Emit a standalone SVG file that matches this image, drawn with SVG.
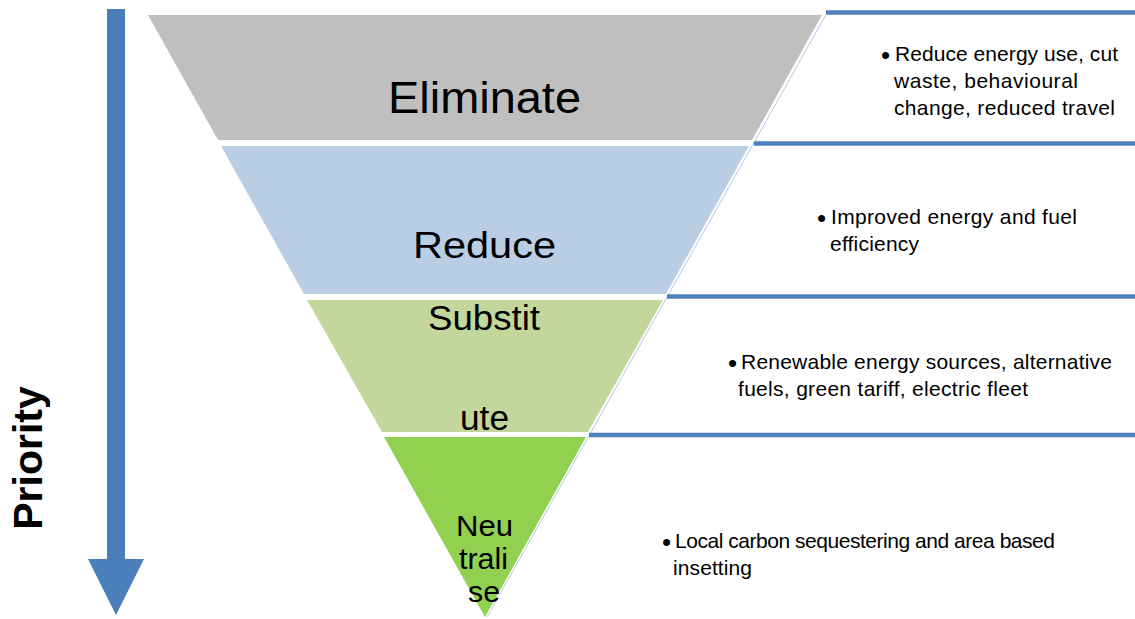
<svg xmlns="http://www.w3.org/2000/svg" width="1135" height="619" viewBox="0 0 1135 619">
<style>
.lvl{stroke:none}
.big{font-family:"Liberation Sans",Arial,sans-serif;fill:#000;text-anchor:start}
.desc{font-family:"Liberation Sans",Arial,sans-serif;font-size:21px;fill:#000}
.bul{font-family:"Liberation Sans",Arial,sans-serif;font-size:26px;fill:#000}
.rule{stroke:#4f81bd;stroke-width:4.5;fill:none}
.faint{stroke:#b4c7e7;stroke-width:1;fill:none}
</style>
<rect width="1135" height="619" fill="#fff"/>
<g id="priority-arrow">
<rect x="107" y="9" width="18" height="551" fill="#4a7ebb"/>
<polygon points="88,559 144,559 116,615" fill="#4a7ebb"/>
<text class="big" font-weight="bold" font-size="41" transform="translate(42,458) rotate(-90)" text-anchor="middle" style="text-anchor:middle">Priority</text>
</g>
<g id="connectors">
<line class="faint" x1="828" y1="11" x2="487" y2="617"/>
<line class="rule" x1="826" y1="12.5" x2="1135" y2="12.5"/>
<line class="rule" x1="754" y1="143.5" x2="1135" y2="143.5"/>
<line class="rule" x1="667" y1="296.5" x2="1135" y2="296.5"/>
<line class="rule" x1="589" y1="435" x2="1135" y2="435"/>
</g>
<g id="eliminate">
<polygon class="lvl" points="148,15 822,15 752,140 218,140" fill="#bfbfbf"/>
<text class="big" x="388" y="113" font-size="45" textLength="193" lengthAdjust="spacingAndGlyphs">Eliminate</text>
</g>
<g id="reduce">
<polygon class="lvl" points="221,146 749,146 666,294 304,294" fill="#b9cde5"/>
<text class="big" x="413" y="258" font-size="36" textLength="143" lengthAdjust="spacingAndGlyphs">Reduce</text>
</g>
<g id="substitute">
<polygon class="lvl" points="307,300 663,300 588,432 382,432" fill="#c3d69b"/>
<text class="big" x="428" y="330" font-size="35" textLength="112" lengthAdjust="spacingAndGlyphs">Substit</text>
<text class="big" x="460" y="430" font-size="35" textLength="49" lengthAdjust="spacingAndGlyphs">ute</text>
</g>
<g id="neutralise">
<polygon class="lvl" points="384,437 586,437 485,617" fill="#92d050"/>
<text class="big" x="456" y="536" font-size="30" textLength="57" lengthAdjust="spacingAndGlyphs">Neu</text>
<text class="big" x="459" y="569" font-size="30" textLength="49" lengthAdjust="spacingAndGlyphs">trali</text>
<text class="big" x="468" y="602" font-size="30" textLength="32" lengthAdjust="spacingAndGlyphs">se</text>
</g>
<g id="desc-eliminate">
<text class="bul" x="881" y="64">•</text>
<text class="desc" x="895" y="61" textLength="223">Reduce energy use, cut</text>
<text class="desc" x="894" y="88" textLength="184">waste, behavioural</text>
<text class="desc" x="894" y="114.5" textLength="221">change, reduced travel</text>
</g>
<g id="desc-reduce">
<text class="bul" x="817" y="227">•</text>
<text class="desc" x="831" y="224" textLength="246">Improved energy and fuel</text>
<text class="desc" x="830" y="250.5" textLength="89">efficiency</text>
</g>
<g id="desc-substitute">
<text class="bul" x="728" y="372">•</text>
<text class="desc" x="741" y="369" textLength="371">Renewable energy sources, alternative</text>
<text class="desc" x="738" y="395.5" textLength="290">fuels, green tariff, electric fleet</text>
</g>
<g id="desc-neutralise">
<text class="bul" x="662" y="551">•</text>
<text class="desc" x="675" y="548" textLength="380">Local carbon sequestering and area based</text>
<text class="desc" x="673" y="574.5" textLength="79">insetting</text>
</g>
</svg>
